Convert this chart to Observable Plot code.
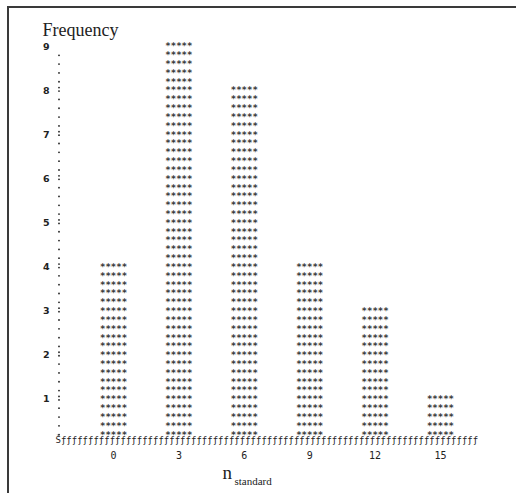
<!DOCTYPE html>
<html>
<head>
<meta charset="utf-8">
<script src="https://cdn.jsdelivr.net/npm/d3@7"></script>
<script src="https://cdn.jsdelivr.net/npm/@observablehq/plot@0.6"></script>
<style>
  html, body { margin: 0; padding: 0; width: 516px; height: 493px; background: #fff; overflow: hidden; }
  #chart { position: absolute; left: 0; top: 0; width: 516px; height: 493px; overflow: hidden; background: #fff; }
  #topLine { position: absolute; left: 7px; top: 6px; width: 509px; height: 2px; background: #3a3a3a; }
  #leftLine { position: absolute; left: 7px; top: 6px; width: 2px; height: 487px; background: #3a3a3a; }
  #chart svg { position: absolute; left: 0; top: 0; display: block; }
</style>
</head>
<body>
<div id="chart"><div id="topLine"></div><div id="leftLine"></div></div>
<script>
// Histogram of n_standard, drawn line-printer style: one row of "*****" per fifth of a count
const bins = [0, 3, 6, 9, 12, 15];
const counts = [4, 9, 8, 4, 3, 1];
const xTicks = [0, 3, 6, 9, 12, 15];
const yTicks = [1, 2, 3, 4, 5, 6, 7, 8, 9];
const rowsPerUnit = 5;
const maxRow = 9;

const starRows = bins.flatMap((b, i) =>
  d3.range(1, counts[i] * rowsPerUnit + 1).map(k => ({bin: b, level: k / rowsPerUnit}))
);

// vertical axis drawn as a dotted column: one dot per row, a colon at each whole count
const axisRows = d3.range(1, maxRow * rowsPerUnit).map(k => ({level: k / rowsPerUnit, major: k % rowsPerUnit === 0}));
const minorRows = axisRows.filter(d => !d.major);
const majorRows = axisRows.filter(d => d.major);

const baseLine = "Š" + "ƒ".repeat(77);
const mono = "'DejaVu Sans Mono', monospace";
const serif = "'Liberation Serif', serif";

const chart = Plot.plot({
  width: 516,
  height: 493,
  marginTop: 40,
  marginBottom: 52,
  marginLeft: 57,
  marginRight: 37,
  x: {domain: [-2.57, 16.79]},
  y: {domain: [0, 9.09]},
  style: {background: "transparent", color: "#222"},
  marks: [
    Plot.text(starRows, {x: "bin", y: "level", text: () => "*****",
      fontFamily: mono, fontSize: 9, fontWeight: "bold", fill: "#3a3a3a", dy: 2}),
    Plot.dot(minorRows, {y: "level", frameAnchor: "left", r: 0.9, fill: "#222", dx: 1.5, dy: 2}),
    Plot.dot(majorRows, {y: "level", frameAnchor: "left", r: 0.9, fill: "#222", dx: 1.5, dy: -1}),
    Plot.dot(majorRows, {y: "level", frameAnchor: "left", r: 0.9, fill: "#222", dx: 1.5, dy: 2.5}),
    Plot.text([baseLine], {frameAnchor: "bottom-left", textAnchor: "start",
      fontFamily: mono, fontSize: 9, fill: "#222", dx: -2, dy: 1}),
    Plot.axisY({ticks: yTicks, tickSize: 0, tickPadding: 8, label: null,
      fontFamily: "'DejaVu Sans', sans-serif", fontSize: 9.5, fontWeight: "bold", dy: 2}),
    Plot.axisX({ticks: xTicks, tickSize: 0, tickPadding: 10, label: null,
      fontFamily: mono, fontSize: 10}),
    Plot.text(["Frequency"], {frameAnchor: "top-left", textAnchor: "start",
      fontFamily: serif, fontSize: 18, dx: -15, dy: -17}),
    Plot.text(["n"], {frameAnchor: "bottom-left", textAnchor: "start",
      fontFamily: serif, fontSize: 19, dx: 165, dy: 37}),
    Plot.text(["standard"], {frameAnchor: "bottom-left", textAnchor: "start",
      fontFamily: serif, fontSize: 11, dx: 177, dy: 43})
  ]
});

document.getElementById("chart").appendChild(chart);
</script>
</body>
</html>
